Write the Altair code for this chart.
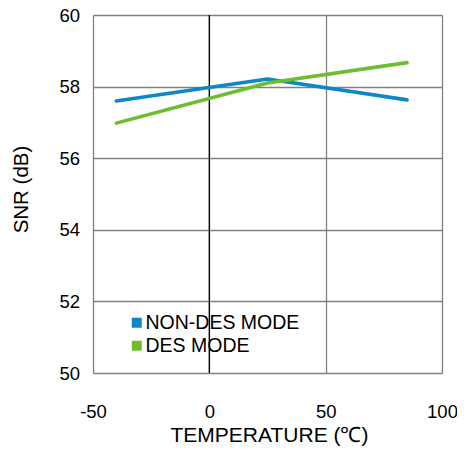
import altair as alt
import pandas as pd

temps = [-40, 25, 85]
snr_non_des = [57.60, 58.21, 57.63]
snr_des = [56.98, 58.10, 58.67]
series_names = ["NON-DES MODE", "DES MODE"]
series_colors = ["#0C87C8", "#6DBE2E"]
x_ticks = [-50, 0, 50, 100]
y_ticks = [50, 52, 54, 56, 58, 60]
zero_line = [0]

df = pd.DataFrame({
    "temp": temps * 2,
    "snr": snr_non_des + snr_des,
    "series": [series_names[0]] * len(temps) + [series_names[1]] * len(temps),
})

FONT = "Liberation Sans"

x_scale = alt.Scale(domain=[-50, 100], nice=False, zero=False)
y_scale = alt.Scale(domain=[50, 60], nice=False, zero=False)
c_scale = alt.Scale(domain=series_names, range=series_colors)

x_axis = alt.Axis(
    values=x_ticks, title="TEMPERATURE (℃)", grid=True, gridColor="#808080", gridWidth=1.3,
    ticks=False, domain=False, labelPadding=29, labelFontSize=18.5, labelFont=FONT,
    labelColor="black", labelExpr="'' + datum.value", labelFlush=False,
    titleFont=FONT, titleFontSize=21, titleFontWeight="normal", titleColor="black",
    titleBaseline="alphabetic", titleY=68.7, titleX=176, titleAnchor="middle")
y_axis = alt.Axis(
    values=y_ticks, title="SNR (dB)", grid=True, gridColor="#808080", gridWidth=1.3,
    ticks=False, domain=False, labelPadding=13.5, labelFontSize=18.5, labelFont=FONT,
    labelColor="black", titleFont=FONT, titleFontSize=20.5, titleFontWeight="normal",
    titleColor="black", titleBaseline="alphabetic", titleAlign="center",
    titleX=-65.3, titleY=174)

lines = alt.Chart(df).mark_line(strokeWidth=3.6, strokeCap="round", strokeJoin="round").encode(
    x=alt.X("temp:Q", scale=x_scale, axis=x_axis),
    y=alt.Y("snr:Q", scale=y_scale, axis=y_axis),
    color=alt.Color("series:N", scale=c_scale, sort=series_names,
                    legend=alt.Legend(title=None, orient="none", legendX=34, legendY=298,
                                      symbolType="square", symbolSize=25, symbolStrokeWidth=5,
                                      labelFont=FONT, labelFontSize=19.5, labelColor="black",
                                      labelOffset={"expr": "-1"}, rowPadding={"expr": "-8.5"},
                                      padding=0)),
)

zero_rule = alt.Chart(pd.DataFrame({"z": zero_line})).mark_rule(color="black", strokeWidth=1.3).encode(
    x=alt.X("z:Q", scale=x_scale)
)

chart = alt.layer(zero_rule, lines).properties(
    width=349, height=358,
    autosize=alt.AutoSizeParams(type="none"),
    padding={"left": 85, "top": 7, "right": 15, "bottom": 76},
).configure_view(stroke="black", strokeWidth=3).configure(background="white")

chart.save("out.html", embed_options={"renderer": "svg", "actions": False})
